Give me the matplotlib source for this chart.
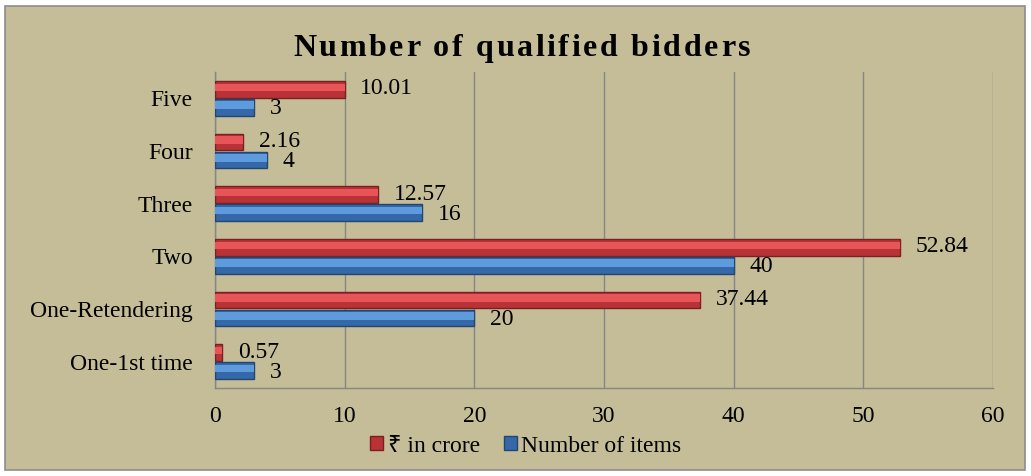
import matplotlib
matplotlib.use('Agg')
import matplotlib.pyplot as plt
from matplotlib.patches import Rectangle, Patch
import numpy as np

categories = ['One-1st time', 'One-Retendering', 'Two', 'Three', 'Four', 'Five']
crore = [0.57, 37.44, 52.84, 12.57, 2.16, 10.01]
items = [3, 20, 40, 16, 4, 3]
crore_labels = ['0.57', '37.44', '52.84', '12.57', '2.16', '10.01']
items_labels = ['3', '20', '40', '16', '4', '3']
title = 'Number of qualified bidders'

bg = '#C4BD97'
fs = 17
plt.rcParams['font.family'] = ['Liberation Serif', 'DejaVu Serif']

W, H = 1031, 476
fig = plt.figure(figsize=(W / 100, H / 100), dpi=100, facecolor='white')
fig.patches.append(Rectangle((5 / W, 6 / H), 1020 / W, 464 / H,
                             transform=fig.transFigure, facecolor=bg,
                             edgecolor='#8C8C8C', linewidth=1.2, zorder=-1))

ax = fig.add_axes([215 / W, (H - 388) / H, 778 / W, 316 / H])
ax.set_facecolor(bg)

y = np.arange(len(categories))
h = 0.32

def shaded_bars(vals, offset, base, light, dark):
    ax.barh(y + offset, vals, height=h, color=base, edgecolor=dark, linewidth=1.0, zorder=3)
    # lighter band on upper part to mimic the bevel
    ax.barh(y + offset + h * 0.12, vals, height=h * 0.45, color=light,
            edgecolor='none', linewidth=0, zorder=4)

shaded_bars(crore, h / 2 + 0.01, '#B83236', '#E85558', '#7A2022')
shaded_bars(items, -h / 2 - 0.01, '#3568A8', '#5D9BDD', '#22466F')

for i in range(len(categories)):
    ax.text(crore[i] + 1.2, y[i] + h / 2 + 0.02, crore_labels[i], va='center', ha='left',
            fontsize=fs, color='black', zorder=5)
    ax.text(items[i] + 1.2, y[i] - h / 2 - 0.04, items_labels[i], va='center', ha='left',
            fontsize=fs, color='black', zorder=5)

ax.set_xlim(0, 60)
ax.set_ylim(-0.5, len(categories) - 0.5)
ax.set_xticks(range(0, 61, 10))
ax.set_yticks(y)
ax.set_yticklabels(categories, fontsize=fs)
ax.tick_params(axis='x', labelsize=fs, length=0, pad=13)
ax.tick_params(axis='y', length=0, pad=16)
ax.grid(axis='x', color='#868686', linewidth=1.0, zorder=1)
for s in ['top', 'right']:
    ax.spines[s].set_visible(False)
for s in ['left', 'bottom']:
    ax.spines[s].set_color('#868686')
    ax.spines[s].set_linewidth(1.0)

# title with letter spacing, placed char by char
renderer = fig.canvas.get_renderer()
tsize = 23
widths = []
for ch in title:
    t = fig.text(0, 0, ch if ch != ' ' else 'n', fontsize=tsize, fontweight='bold')
    widths.append(t.get_window_extent(renderer).width * (0.45 if ch == ' ' else 1.0))
    t.remove()
left, right = 293, 750
spacing = (right - left - sum(widths)) / (len(title) - 1)
x = left
for ch, w in zip(title, widths):
    if ch != ' ':
        fig.text(x / W, 1 - 56 / H, ch, fontsize=tsize, fontweight='bold',
                 ha='left', va='baseline')
    x += w + spacing

handles = [Patch(facecolor='#B83236', edgecolor='#7A2022', label='₹ in crore'),
           Patch(facecolor='#3568A8', edgecolor='#22466F', label='Number of items')]
fig.legend(handles=handles, loc='center', bbox_to_anchor=(0.510, 1 - 446 / H), ncol=2,
           frameon=False, handlelength=0.55, handleheight=0.55,
           handletextpad=0.2, columnspacing=1.0,
           prop={'family': ['Liberation Serif', 'Noto Sans', 'DejaVu Sans'], 'size': fs})

fig.savefig('out.png', dpi=100, facecolor='white')
